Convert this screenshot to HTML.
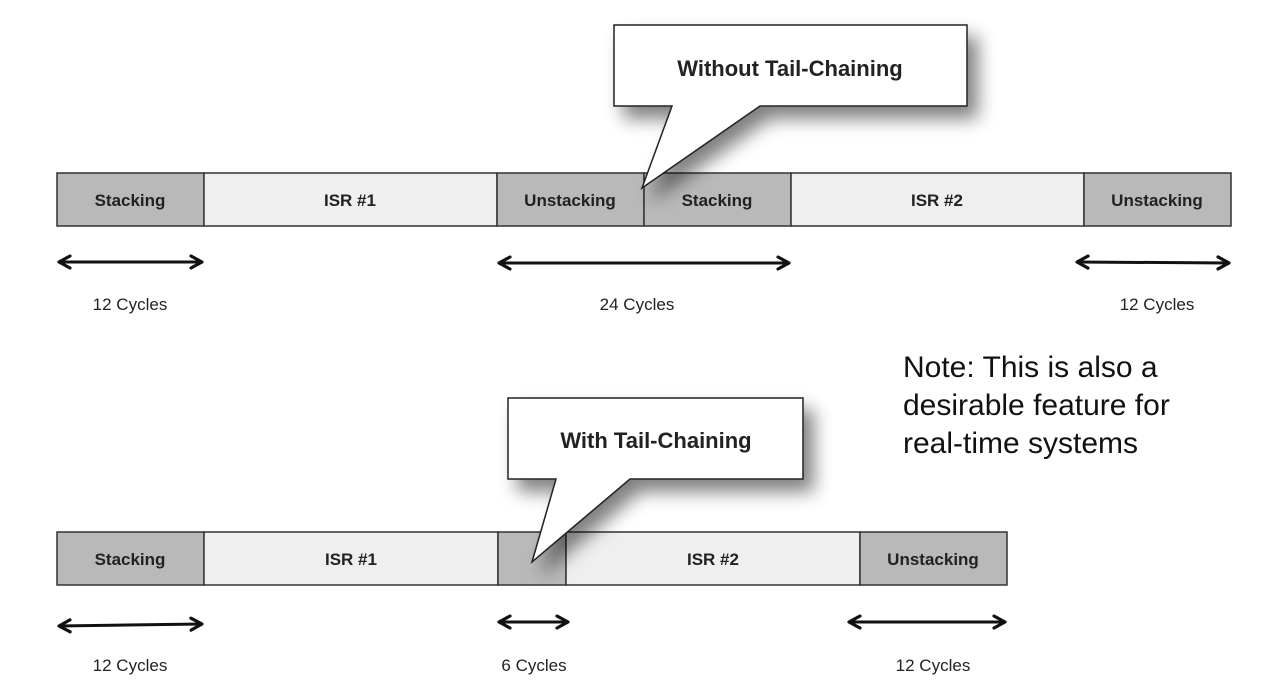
<!DOCTYPE html>
<html><head><meta charset="utf-8"><style>
html,body{margin:0;padding:0;background:#fff;}
svg{display:block;}
.b{font-family:"Liberation Sans","DejaVu Sans",sans-serif;font-weight:bold;font-size:17px;fill:#222;}
.l{font-family:"Liberation Sans","DejaVu Sans",sans-serif;font-size:17px;fill:#222;}
</style></head><body>
<svg width="1270" height="694" viewBox="0 0 1270 694" xmlns="http://www.w3.org/2000/svg">
<defs>
<filter id="sh" x="-20%" y="-20%" width="150%" height="170%">
<feGaussianBlur in="SourceAlpha" stdDeviation="9"/>
<feOffset dx="10" dy="12"/>
<feComponentTransfer><feFuncA type="linear" slope="0.5"/></feComponentTransfer>
<feMerge><feMergeNode/><feMergeNode in="SourceGraphic"/></feMerge>
</filter>
<marker id="ah" viewBox="0 0 16 16" refX="13" refY="8" markerWidth="16" markerHeight="16" markerUnits="userSpaceOnUse" orient="auto-start-reverse">
<path d="M2,2 L13,8 L2,14" fill="none" stroke="#111" stroke-width="3.2" stroke-linecap="round" stroke-linejoin="round"/>
</marker>
</defs>

<g stroke="#333" stroke-width="1.5">
<rect x="57" y="173" width="147" height="53" fill="#b9b9b9"/>
<rect x="204" y="173" width="293" height="53" fill="#efefef"/>
<rect x="497" y="173" width="147" height="53" fill="#b9b9b9"/>
<rect x="644" y="173" width="147" height="53" fill="#b9b9b9"/>
<rect x="791" y="173" width="293" height="53" fill="#efefef"/>
<rect x="1084" y="173" width="147" height="53" fill="#b9b9b9"/>
</g>
<g class="b" text-anchor="middle">
<text x="130" y="206">Stacking</text>
<text x="350" y="206">ISR #1</text>
<text x="570" y="206">Unstacking</text>
<text x="717" y="206">Stacking</text>
<text x="937" y="206">ISR #2</text>
<text x="1157" y="206">Unstacking</text>
</g>

<path d="M614,25 L967,25 L967,106 L760,106 L642,188 L672,106 L614,106 Z" fill="#fff" stroke="#222" stroke-width="1.5" filter="url(#sh)"/>
<text x="790" y="76" class="b" text-anchor="middle" style="font-size:22px">Without Tail-Chaining</text>

<g stroke="#111" stroke-width="3" fill="none">
<line x1="59" y1="262" x2="202" y2="262" marker-start="url(#ah)" marker-end="url(#ah)"/>
<line x1="499" y1="263" x2="789" y2="263" marker-start="url(#ah)" marker-end="url(#ah)"/>
<line x1="1077" y1="262" x2="1229" y2="263" marker-start="url(#ah)" marker-end="url(#ah)"/>
</g>
<g class="l" text-anchor="middle">
<text x="130" y="310">12 Cycles</text>
<text x="637" y="310">24 Cycles</text>
<text x="1157" y="310">12 Cycles</text>
</g>

<g font-family="Liberation Sans, DejaVu Sans, sans-serif" font-size="30" fill="#111">
<text x="903" y="377">Note: This is also a</text>
<text x="903" y="415">desirable feature for</text>
<text x="903" y="453">real-time systems</text>
</g>

<g stroke="#333" stroke-width="1.5">
<rect x="57" y="532" width="147" height="53" fill="#b9b9b9"/>
<rect x="204" y="532" width="294" height="53" fill="#efefef"/>
<rect x="498" y="532" width="68" height="53" fill="#b9b9b9"/>
<rect x="566" y="532" width="294" height="53" fill="#efefef"/>
<rect x="860" y="532" width="147" height="53" fill="#b9b9b9"/>
</g>
<g class="b" text-anchor="middle">
<text x="130" y="565">Stacking</text>
<text x="351" y="565">ISR #1</text>
<text x="713" y="565">ISR #2</text>
<text x="933" y="565">Unstacking</text>
</g>

<path d="M508,398 L803,398 L803,479 L630,479 L532,562 L556,479 L508,479 Z" fill="#fff" stroke="#222" stroke-width="1.5" filter="url(#sh)"/>
<text x="656" y="448" class="b" text-anchor="middle" style="font-size:22px">With Tail-Chaining</text>

<g stroke="#111" stroke-width="3" fill="none">
<line x1="59" y1="626" x2="202" y2="624" marker-start="url(#ah)" marker-end="url(#ah)"/>
<line x1="499" y1="622" x2="568" y2="622" marker-start="url(#ah)" marker-end="url(#ah)"/>
<line x1="849" y1="622" x2="1005" y2="622" marker-start="url(#ah)" marker-end="url(#ah)"/>
</g>
<g class="l" text-anchor="middle">
<text x="130" y="671">12 Cycles</text>
<text x="534" y="671">6 Cycles</text>
<text x="933" y="671">12 Cycles</text>
</g>
</svg>
</body></html>
